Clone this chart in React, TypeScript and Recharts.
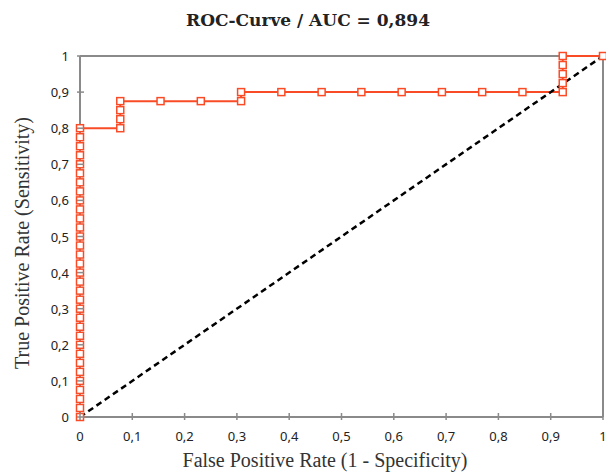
import React from 'react';
import { LineChart, Line, XAxis, YAxis, ReferenceLine } from 'recharts';

// ROC points (false positive rate / true positive rate)
const fpr = [
  0, 0, 0, 0, 0, 0, 0, 0, 0, 0, 0, 0, 0, 0, 0, 0, 0, 0, 0, 0, 0, 0, 0, 0, 0, 0, 0, 0, 0, 0, 0, 0, 0,
  0.077, 0.077, 0.077, 0.077, 0.154, 0.231, 0.308, 0.308,
  0.385, 0.462, 0.538, 0.615, 0.692, 0.769, 0.846,
  0.923, 0.923, 0.923, 0.923, 0.923, 1,
];
const tpr = [
  0, 0.025, 0.05, 0.075, 0.1, 0.125, 0.15, 0.175, 0.2, 0.225, 0.25, 0.275, 0.3, 0.325, 0.35, 0.375,
  0.4, 0.425, 0.45, 0.475, 0.5, 0.525, 0.55, 0.575, 0.6, 0.625, 0.65, 0.675, 0.7, 0.725, 0.75, 0.775, 0.8,
  0.8, 0.825, 0.85, 0.875, 0.875, 0.875, 0.875, 0.9,
  0.9, 0.9, 0.9, 0.9, 0.9, 0.9, 0.9,
  0.9, 0.925, 0.95, 0.975, 1, 1,
];

// chance line
const diagX = [0, 1];
const diagY = [0, 1];

const ticks = [0, 0.1, 0.2, 0.3, 0.4, 0.5, 0.6, 0.7, 0.8, 0.9, 1];

const rocData = fpr.map((x, i) => ({ x, y: tpr[i] }));
const diagData = diagX.map((x, i) => ({ x, y: diagY[i] }));

const RED = '#F94C26';
const AXIS = '#8a8a8a';
const tickFont = '"Noto Sans", sans-serif';
const labelFont = '"Liberation Serif", serif';

const fmt = (v: number) => String(v).replace('.', ',');

const XTick = ({ x, y, payload }: any) => (
  <g>
    <line x1={x} x2={x} y1={y - 4} y2={y + 3} stroke={AXIS} strokeWidth={1.5} />
    <text x={x} y={y + 24} textAnchor="middle" fontSize={13} fontFamily={tickFont} fill="#222">
      {fmt(payload.value)}
    </text>
  </g>
);

const YTick = ({ x, y, payload }: any) => (
  <g>
    <line x1={x - 3} x2={x + 4} y1={y} y2={y} stroke={AXIS} strokeWidth={1.5} />
    <text x={x - 11} y={y + 5} textAnchor="end" fontSize={13} fontFamily={tickFont} fill="#222">
      {fmt(payload.value)}
    </text>
  </g>
);

const SquareDot = (props: any) => {
  const { cx, cy, index } = props;
  return (
    <rect
      key={index}
      x={cx - 3.5}
      y={cy - 3.5}
      width={7}
      height={7}
      fill="#fff"
      stroke={RED}
      strokeWidth={1.5}
    />
  );
};

const App = () => {
  return (
    <div style={{ position: 'absolute', left: 0, top: 0, width: 606, height: 475, background: '#fff' }}>
      <div
        style={{
          position: 'absolute',
          top: 10,
          left: 0,
          width: 616,
          textAlign: 'center',
          fontFamily: '"DejaVu Serif", serif',
          fontWeight: 'bold',
          fontSize: 17,
          color: '#222',
        }}
      >
        ROC-Curve / AUC = 0,894
      </div>
      <div
        style={{
          position: 'absolute',
          top: 449,
          left: 0,
          width: 650,
          textAlign: 'center',
          fontFamily: labelFont,
          fontSize: 20,
          color: '#333',
        }}
      >
        False Positive Rate (1 - Specificity)
      </div>
      <div
        style={{
          position: 'absolute',
          left: 22,
          top: 243,
          width: 300,
          marginLeft: -150,
          marginTop: -12,
          textAlign: 'center',
          transform: 'rotate(-90deg)',
          fontFamily: labelFont,
          fontSize: 20,
          color: '#333',
          lineHeight: '24px',
        }}
      >
        True Positive Rate (Sensitivity)
      </div>
      <LineChart
        width={606}
        height={475}
        margin={{ top: 56, right: 3, left: 0, bottom: 0 }}
        style={{ position: 'absolute', left: 0, top: 0 }}
      >
        <XAxis
          type="number"
          dataKey="x"
          domain={[0, 1]}
          ticks={ticks}
          height={58}
          tickSize={0}
          tickMargin={0}
          tickLine={false}
          axisLine={{ stroke: AXIS, strokeWidth: 2 }}
          tick={<XTick />}
          interval={0}
        />
        <YAxis
          type="number"
          dataKey="y"
          domain={[0, 1]}
          ticks={ticks}
          width={80}
          tickSize={0}
          tickMargin={0}
          tickLine={false}
          axisLine={{ stroke: AXIS, strokeWidth: 2 }}
          tick={<YTick />}
          interval={0}
        />
        <ReferenceLine y={1} stroke={AXIS} strokeWidth={2} />
        <ReferenceLine x={1} stroke={AXIS} strokeWidth={2} />
        <Line
          data={rocData}
          dataKey="y"
          type="linear"
          stroke={RED}
          strokeWidth={2}
          dot={SquareDot}
          activeDot={false}
          isAnimationActive={false}
        />
        <Line
          data={diagData}
          dataKey="y"
          type="linear"
          stroke="#000"
          strokeWidth={2.5}
          strokeDasharray="6 4"
          dot={false}
          activeDot={false}
          isAnimationActive={false}
        />
      </LineChart>
    </div>
  );
};

export default App;
